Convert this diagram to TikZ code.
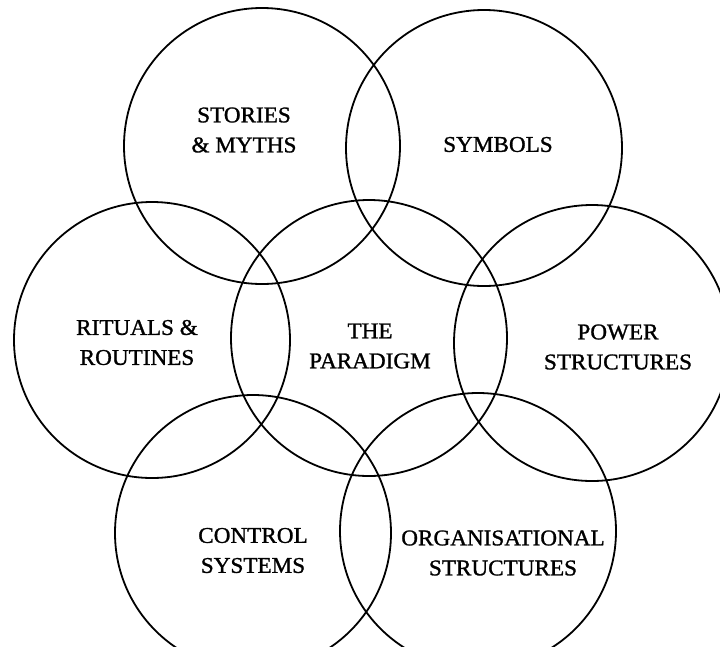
\documentclass[tikz,border=0pt]{standalone}
\usepackage{fontspec}
\setmainfont{Liberation Serif}[FakeBold=1.2,FakeStretch=1.03]
\begin{document}
\begin{tikzpicture}[x=1pt,y=-1pt,
  ring/.style={circle,draw=black,line width=1.8pt,minimum size=276pt,inner sep=0pt},
  caption/.style={align=center,inner sep=0pt,font=\fontsize{22.5}{30}\selectfont}]
\useasboundingbox (0,0) rectangle (720,646);
\clip (0,0) rectangle (720,646);

% the seven overlapping circles of the cultural web
\node[ring] (stories)  at (262,146) {};
\node[ring] (symbols)  at (484,148) {};
\node[ring] (rituals)  at (152,340) {};
\node[ring] (paradigm) at (369,338) {};
\node[ring] (power)    at (592,343) {};
\node[ring] (control)  at (253,533) {};
\node[ring] (org)      at (478,531) {};

% labels
\node[caption] (tstories)  at (244,130) {STORIES\\\& MYTHS};
\node[caption] (tsymbols)  at (498,144.5) {SYMBOLS};
\node[caption] (trituals)  at (137,342.5) {RITUALS \&\\ROUTINES};
\node[caption] (tparadigm) at (370,346) {THE\\PARADIGM};
\node[caption] (tpower)    at (618,347) {POWER\\STRUCTURES};
\node[caption] (tcontrol)  at (253,550.5) {CONTROL\\SYSTEMS};
\node[caption] (torg)      at (503,553) {ORGANISATIONAL\\STRUCTURES};
\end{tikzpicture}
\end{document}
